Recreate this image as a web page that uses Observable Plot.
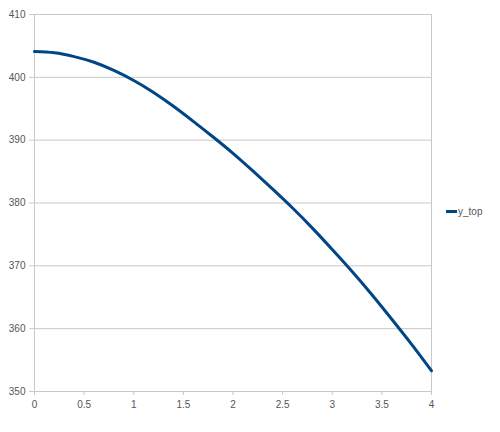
<!DOCTYPE html>
<html>
<head>
<meta charset="utf-8">
<script src="https://cdn.jsdelivr.net/npm/d3@7"></script>
<script src="https://cdn.jsdelivr.net/npm/@observablehq/plot@0.6"></script>
<style>
  body { margin: 0; background: #fff; }
  #wrap { position: relative; width: 500px; height: 432px; font-family: "Liberation Sans", Arial, sans-serif; }
  #legend { position: absolute; left: 446px; top: 206px; font-size: 10px; color: #555; display: flex; align-items: center; }
  #legend .sw { width: 11px; height: 3px; background: #004586; margin-right: 1px; }
</style>
</head>
<body>
<div id="wrap"></div>
<script>
const xs = [0, 0.2, 0.4, 0.6, 0.8, 1.0, 1.2, 1.4, 1.6, 1.8, 2.0, 2.2, 2.4, 2.6, 2.8, 3.0, 3.2, 3.4, 3.6, 3.8, 4.0];
const yTop = [404.1, 403.9, 403.3, 402.4, 401.1, 399.5, 397.6, 395.4, 393.0, 390.5, 387.9, 385.1, 382.2, 379.2, 376.0, 372.6, 369.1, 365.4, 361.5, 357.5, 353.3];
const seriesName = "y_top";
const xTicks = [0, 0.5, 1, 1.5, 2, 2.5, 3, 3.5, 4];
const yTicks = [350, 360, 370, 380, 390, 400, 410];

const data = xs.map((x, i) => ({x, y: yTop[i]}));

const chart = Plot.plot({
  width: 500,
  height: 432,
  marginLeft: 34,
  marginRight: 69,
  marginTop: 14,
  marginBottom: 41,
  style: {fontFamily: "Liberation Sans, Arial, sans-serif", fontSize: "10px", color: "#555", background: "#fff"},
  x: {domain: [0, 4], label: null},
  y: {domain: [350, 410], label: null},
  marks: [
    Plot.ruleY(yTicks, {stroke: "#c8c8c8", strokeWidth: 1}),
    Plot.ruleX([0, 4], {stroke: "#c8c8c8", strokeWidth: 1}),
    Plot.axisX({ticks: xTicks, tickFormat: d => String(d), tickSize: 4, tickPadding: 5, stroke: "#c8c8c8", fill: "#555", label: null}),
    Plot.axisY({ticks: yTicks, tickSize: 5, tickPadding: 4, stroke: "#c8c8c8", fill: "#555", label: null}),
    Plot.line(data, {x: "x", y: "y", stroke: "#004586", strokeWidth: 3, curve: "natural"})
  ]
});

const wrap = document.getElementById("wrap");
wrap.appendChild(chart);
const leg = document.createElement("div");
leg.id = "legend";
leg.innerHTML = `<span class="sw"></span><span>${seriesName}</span>`;
wrap.appendChild(leg);
</script>
</body>
</html>
